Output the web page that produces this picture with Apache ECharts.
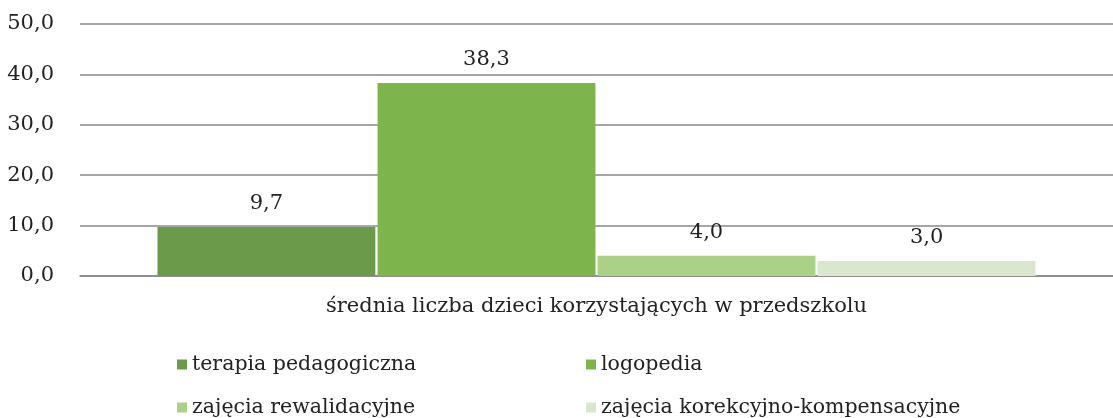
<!DOCTYPE html>
<html lang="pl">
<head>
  <meta charset="UTF-8">
  <title>Zajęcia w przedszkolu</title>
  <style>
    html, body { margin: 0; padding: 0; background: #fff; }
    #chart { width: 1113px; height: 418px; }
  </style>
</head>
<body>
  <div id="chart"></div>
  <script src="https://cdn.jsdelivr.net/npm/echarts@6/dist/echarts.min.js"></script>
  <script>
    // dane
    const categories = ['średnia liczba dzieci korzystających w przedszkolu'];
    const seriesNames = ['terapia pedagogiczna', 'logopedia', 'zajęcia rewalidacyjne', 'zajęcia korekcyjno-kompensacyjne'];
    const values = [9.7, 38.3, 4.0, 3.0];
    const colors = ['#6c9a4b', '#7db54c', '#abd188', '#d9e8cc'];

    const font = 'DejaVu Serif';
    const fmt = v => Number(v).toFixed(1).replace('.', ',');

    // legenda w dwóch kolumnach
    const legendPos = [
      { left: 172, top: 349 },
      { left: 581, top: 349 },
      { left: 172, top: 392 },
      { left: 581, top: 392 }
    ];

    const chart = echarts.init(document.getElementById('chart'));
    chart.setOption({
      animation: false,
      grid: { left: 80, right: 0, top: 24, bottom: 142 },
      legend: seriesNames.map((name, i) => ({
        data: [name],
        left: legendPos[i].left,
        top: legendPos[i].top,
        icon: 'rect',
        itemWidth: 10,
        itemHeight: 10,
        itemGap: 6,
        textStyle: { fontFamily: font, fontSize: 20.5, color: '#222' }
      })),
      xAxis: {
        type: 'category',
        data: categories,
        axisLine: { lineStyle: { color: '#888', width: 1.5 } },
        axisTick: { show: false },
        axisLabel: { fontFamily: font, fontSize: 21, color: '#222', margin: 20 }
      },
      yAxis: {
        type: 'value',
        min: 0,
        max: 50,
        interval: 10,
        axisLine: { show: false },
        axisTick: { show: false },
        splitLine: { lineStyle: { color: '#888', width: 1.5 } },
        axisLabel: { fontFamily: font, fontSize: 21, color: '#222', margin: 26, formatter: fmt }
      },
      series: seriesNames.map((name, i) => ({
        name: name,
        type: 'bar',
        data: [values[i]],
        barGap: '1%',
        barCategoryGap: '15%',
        itemStyle: { color: colors[i] },
        label: {
          show: true,
          position: 'top',
          distance: 13,
          fontFamily: font,
          fontSize: 21,
          color: '#222',
          formatter: p => fmt(p.value)
        }
      }))
    });
  </script>
</body>
</html>
